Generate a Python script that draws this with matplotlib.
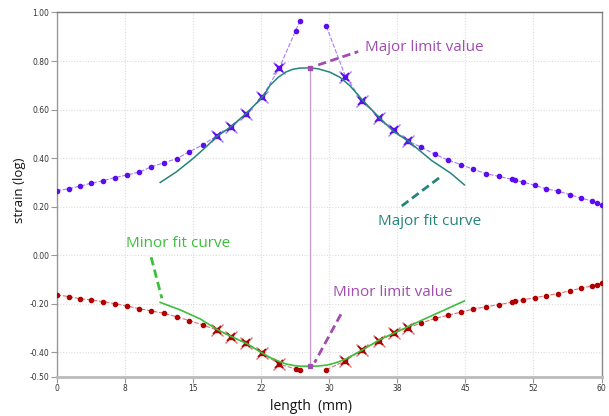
import matplotlib
matplotlib.use("Agg")
import matplotlib.pyplot as plt
import numpy as np

# Measurement positions along the section (mm), shared by both strain series
positions = [0.0, 1.3, 2.6, 3.8, 5.1, 6.4, 7.75, 9.1, 10.4, 11.8, 13.2, 14.6,
             16.1, 17.65, 19.2, 20.9, 22.65, 24.5, 26.3, 26.8,
             29.7, 31.8, 33.65, 35.5, 37.1, 38.7, 40.1, 41.65, 43.1, 44.55,
             45.9, 47.3, 48.7, 50.1, 50.45, 51.35, 52.65, 53.9, 55.2, 56.5,
             57.75, 59.0, 59.5, 60.0]

major_strain = [0.266, 0.274, 0.285, 0.297, 0.307, 0.320, 0.331, 0.343, 0.364,
                0.381, 0.398, 0.426, 0.455, 0.493, 0.528, 0.583, 0.653, 0.770,
                0.924, 0.966,
                0.943, 0.736, 0.636, 0.565, 0.516, 0.470, 0.446, 0.416, 0.392,
                0.373, 0.354, 0.336, 0.325, 0.313, 0.309, 0.302, 0.288, 0.274,
                0.264, 0.250, 0.235, 0.224, 0.217, 0.207]

minor_strain = [-0.163, -0.170, -0.179, -0.184, -0.191, -0.199, -0.209, -0.220,
                -0.229, -0.239, -0.253, -0.269, -0.287, -0.308, -0.335, -0.362,
                -0.404, -0.448, -0.468, -0.472,
                -0.471, -0.434, -0.390, -0.352, -0.321, -0.298, -0.280, -0.260,
                -0.247, -0.234, -0.221, -0.212, -0.203, -0.194, -0.190, -0.183,
                -0.175, -0.166, -0.158, -0.146, -0.136, -0.125, -0.121, -0.114]

# Points used for the fit windows (left and right of the neck)
fitted_positions = [17.65, 19.2, 20.9, 22.65, 24.5, 31.8, 33.65, 35.5, 37.1, 38.7]

# Index where the crack splits the measurement (no line across it)
crack_index = 20

major_fit_x = [11.4, 13.2, 15.06, 16.5, 17.6, 19.2, 20.9, 22.7, 23.5, 24.4,
               25.2, 26.0, 26.8, 27.85, 28.8, 30.1, 31.2, 32.3, 33.66, 35.5,
               37.1, 38.7, 41.3, 43.4, 44.9]
major_fit_y = [0.300, 0.344, 0.400, 0.448, 0.488, 0.530, 0.585, 0.653, 0.700,
               0.733, 0.754, 0.766, 0.771, 0.772, 0.768, 0.754, 0.733, 0.698,
               0.640, 0.568, 0.510, 0.471, 0.390, 0.338, 0.290]

minor_fit_x = [11.4, 13.6, 15.8, 17.64, 19.2, 20.95, 22.7, 23.6, 24.5, 25.3,
               26.1, 26.9, 27.85, 28.8, 29.8, 30.8, 31.8, 33.66, 35.5, 37.1,
               38.7, 40.05, 42.3, 44.9]
minor_fit_y = [-0.194, -0.225, -0.262, -0.305, -0.334, -0.364, -0.404, -0.423,
               -0.437, -0.448, -0.454, -0.457, -0.457, -0.456, -0.452, -0.442,
               -0.428, -0.390, -0.349, -0.321, -0.294, -0.270, -0.232, -0.188]

limit_position = 27.85
major_limit = 0.772
minor_limit = -0.457

x_ticks = list(np.linspace(0, 60, 9))
x_tick_labels = ["%.0f" % v for v in x_ticks]
y_ticks = [-0.5, -0.4, -0.2, 0.0, 0.2, 0.4, 0.6, 0.8, 1.0]
y_tick_labels = ["%.2f" % v for v in y_ticks]

major_col = "#5b0cf0"
major_line = "#a57cff"
major_fit_col = "#23857c"
minor_col = "#b00000"
minor_line = "#e07070"
minor_fit_col = "#3cbf3c"
limit_col = "#a24bb0"

fig = plt.figure(figsize=(6.09, 4.16), dpi=100)
ax = fig.add_axes([0.0931, 0.0945, 0.8946, 0.8755])

pos = np.array(positions)
fit_mask = np.isin(pos, fitted_positions)


def draw_series(values, dot_col, line_col):
    vals = np.array(values)
    for sl in (slice(0, crack_index), slice(crack_index, None)):
        ax.plot(pos[sl], vals[sl], color=line_col, lw=0.8,
                linestyle=(0, (4, 1.5)), zorder=3)
    ax.plot(pos[~fit_mask], vals[~fit_mask], linestyle="none", marker="o",
            ms=3.0, mfc=dot_col, mec=dot_col, zorder=4)
    ax.plot(pos[fit_mask], vals[fit_mask], linestyle="none", marker="x",
            ms=9, mew=1.0, color=line_col, zorder=4)
    ax.plot(pos[fit_mask], vals[fit_mask], linestyle="none", marker="x",
            ms=5.5, mew=1.3, color=dot_col, zorder=5)
    ax.plot(pos[fit_mask], vals[fit_mask], linestyle="none", marker="s",
            ms=3, mfc=dot_col, mec=dot_col, zorder=5)


draw_series(major_strain, major_col, major_line)
draw_series(minor_strain, minor_col, minor_line)

ax.plot(major_fit_x, major_fit_y, color=major_fit_col, lw=1.1, zorder=6)
ax.plot(minor_fit_x, minor_fit_y, color=minor_fit_col, lw=1.2, zorder=6)

# Vertical marker joining the two limit values
ax.plot([limit_position, limit_position], [minor_limit, major_limit],
        color="#c79ad2", lw=0.9, zorder=2)
ax.plot([limit_position, limit_position], [minor_limit, major_limit],
        linestyle="none", marker="s", ms=3, color=limit_col, zorder=7)

# Callouts
dash = (0, (3, 1.6))
ax.plot([28.8, 33.2], [0.784, 0.839], color=limit_col, lw=2, linestyle=dash)
ax.text(34.0, 0.854, "Major limit value", color=limit_col, fontsize=11,
        family="Open Sans", va="center", ha="left")
ax.plot([38.0, 42.3], [0.203, 0.324], color=major_fit_col, lw=2, linestyle=dash)
ax.text(35.4, 0.141, "Major fit curve", color=major_fit_col, fontsize=11,
        family="Open Sans", va="center", ha="left")
ax.plot([10.4, 11.58], [-0.008, -0.177], color=minor_fit_col, lw=2,
        linestyle=dash)
ax.text(7.59, 0.0465, "Minor fit curve", color=minor_fit_col, fontsize=11,
        family="Open Sans", va="center", ha="left")
ax.plot([31.3, 28.4], [-0.243, -0.442], color=limit_col, lw=2, linestyle=dash)
ax.text(30.46, -0.155, "Minor limit value", color=limit_col, fontsize=11,
        family="Open Sans", va="center", ha="left")

ax.set_xlim(0, 60)
ax.set_ylim(-0.5, 1.0)
ax.set_xticks(x_ticks)
ax.set_xticklabels(x_tick_labels)
ax.set_yticks(y_ticks)
ax.set_yticklabels(y_tick_labels)
ax.tick_params(axis="both", length=4, width=0.8, color="#999999",
               labelsize=5.5, labelcolor="#333333", pad=1.5)
for lab in ax.get_xticklabels() + ax.get_yticklabels():
    lab.set_family("DejaVu Sans")

ax.grid(True, linestyle=(0, (1, 1.5)), color="#dcdcdc", lw=0.8)
ax.set_axisbelow(True)

ax.spines["top"].set_color("#777777")
ax.spines["top"].set_linewidth(1.0)
ax.spines["right"].set_color("#8a8a8a")
ax.spines["right"].set_linewidth(1.0)
ax.spines["left"].set_color("#999999")
ax.spines["left"].set_linewidth(1.0)
ax.spines["bottom"].set_color("#bbbbbb")
ax.spines["bottom"].set_linewidth(2.0)

fig.text(311 / 609, 0.024, "length  (mm)", ha="center", va="center",
         fontsize=10, family="Open Sans", color="#111111")
fig.text(20 / 609, 1 - 190 / 416, "strain (log)", ha="center", va="center",
         rotation=90, fontsize=9.5, family="Open Sans", color="#111111")

fig.savefig("out.png", dpi=100)
